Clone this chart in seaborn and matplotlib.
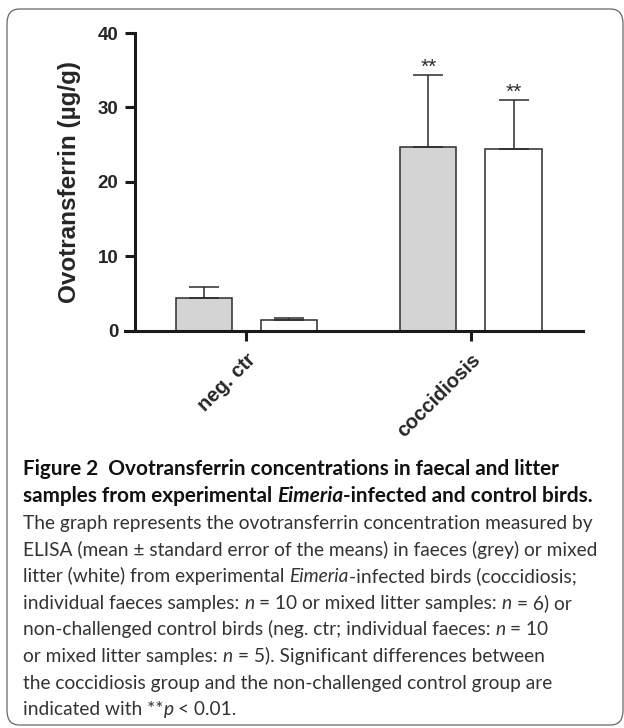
import pandas as pd
import matplotlib
matplotlib.use("Agg")
import matplotlib.pyplot as plt
from matplotlib.patches import FancyBboxPatch
import seaborn as sns

# values (mean and upper SEM)
groups = ["neg. ctr", "neg. ctr", "coccidiosis", "coccidiosis"]
samples = ["faeces", "litter", "faeces", "litter"]
means = [4.4, 1.5, 24.7, 24.4]
sems = [1.5, 0.25, 9.6, 6.6]
stars = ["", "", "**", "**"]

df = pd.DataFrame({"group": groups, "sample": samples, "mean": means})

sns.set_style("white")
plt.rcParams["font.family"] = ["Liberation Sans", "DejaVu Sans"]

fig = plt.figure(figsize=(6.24, 7.28), dpi=100)
ax = fig.add_axes([125 / 624, 1 - 331 / 728, 458 / 624, 298 / 728])

sns.barplot(data=df, x="group", y="mean", hue="sample",
            order=["neg. ctr", "coccidiosis"], hue_order=["faeces", "litter"],
            palette={"faeces": "#d4d4d4", "litter": "white"},
            edgecolor="#2b2b2b", linewidth=1.1, width=0.76, gap=0.34,
            errorbar=None, legend=False, ax=ax)

# upper error bars + significance stars
bars = sorted(ax.patches, key=lambda p: p.get_x())
for p, s, st in zip(bars, sems, stars):
    xc = p.get_x() + p.get_width() / 2
    h = p.get_height()
    ax.errorbar(xc, h, yerr=[[0], [s]], fmt="none", ecolor="#2b2b2b",
                elinewidth=1.1, capsize=10.5, capthick=1.1)
    if st:
        ax.text(xc, h + s + 0.3, st, ha="center", va="baseline", fontsize=15,
                color="#2b2b2b")

ax.set_xlim(-0.541, 1.499)
ax.set_ylim(0, 40)
ax.set_yticks([0, 10, 20, 30, 40])
ax.spines["left"].set_position(("data", -0.497))
for side in ["top", "right"]:
    ax.spines[side].set_visible(False)
for side in ["left", "bottom"]:
    ax.spines[side].set_linewidth(2.2)
    ax.spines[side].set_color("#1a1a1a")
ax.tick_params(axis="both", direction="out", length=7, width=2.2,
               color="#1a1a1a", bottom=True, left=True)
ax.tick_params(axis="y", labelsize=13.5, pad=5)
for t in ax.get_yticklabels():
    t.set_fontweight("bold")
ax.set_xlabel("")
ax.set_ylabel("Ovotransferrin (µg/g)", fontsize=17.5, fontweight="bold",
              labelpad=12)
ax.set_xticks([0, 1])
ax.set_xticklabels(["neg. ctr", "coccidiosis"], rotation=45, ha="right",
                   rotation_mode="anchor", fontsize=14.5, fontweight="bold")
ax.tick_params(axis="x", pad=7)

# caption box
box = FancyBboxPatch((7 / 624, 3 / 728), 616 / 624, 716 / 728,
                     boxstyle="round,pad=0,rounding_size=0.02",
                     transform=fig.transFigure, fill=False,
                     edgecolor="#666666", linewidth=0.9)
fig.patches.append(box)

cap_font = "Lato"
renderer = fig.canvas.get_renderer()
x0 = 23.0


def width_px(txt, **kw):
    t = fig.text(0, 0, txt, **kw)
    w = t.get_window_extent(renderer).width
    t.remove()
    return w


def draw_line(y_px, runs, size, color, weight="normal", draw=True):
    x = x0
    for txt, italic in runs:
        kw = dict(fontsize=size, family=cap_font, weight=weight,
                  style="italic" if italic else "normal")
        space = width_px("a a", **kw) - width_px("aa", **kw)
        if txt.startswith(" "):
            x += space
        core = txt.strip()
        if core:
            if draw:
                fig.text(x / 624, 1 - y_px / 728, core, color=color,
                         va="baseline", ha="left", **kw)
            x += width_px(core, **kw)
        if txt.endswith(" ") and len(txt) > 1:
            x += space
    return x - x0


title_lines = [
    [("Figure 2  Ovotransferrin concentrations in faecal and litter", False)],
    [("samples from experimental ", False), ("Eimeria", True),
     ("-infected and control birds.", False)],
]
body_lines = [
    [("The graph represents the ovotransferrin concentration measured by", False)],
    [("ELISA (mean ± standard error of the means) in faeces (grey) or mixed", False)],
    [("litter (white) from experimental ", False), ("Eimeria", True),
     ("-infected birds (coccidiosis;", False)],
    [("individual faeces samples: ", False), ("n", True),
     (" = 10 or mixed litter samples: ", False), ("n", True), (" = 6) or", False)],
    [("non-challenged control birds (neg. ctr; individual faeces: ", False),
     ("n", True), (" = 10", False)],
    [("or mixed litter samples: ", False), ("n", True),
     (" = 5). Significant differences between", False)],
    [("the coccidiosis group and the non-challenged control group are", False)],
    [("indicated with **", False), ("p", True), (" < 0.01.", False)],
]

# fit caption sizes to the measured line widths
title_size = 10 * 572 / draw_line(0, title_lines[1], 10, "k", "bold", draw=False)
body_size = 10 * 574 / draw_line(0, body_lines[0], 10, "k", draw=False)

y = 475
for runs in title_lines:
    draw_line(y, runs, title_size, "#111111", weight="bold")
    y += 27
y = 529
for runs in body_lines:
    draw_line(y, runs, body_size, "#333333")
    y += 26.6

fig.savefig("out.png", dpi=100)
